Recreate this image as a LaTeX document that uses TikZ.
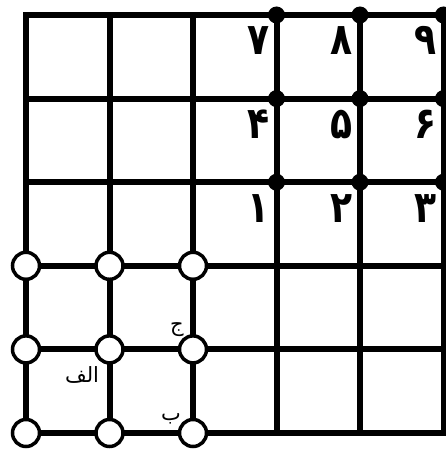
\documentclass[tikz,border=0pt]{standalone}
\usepackage{fontspec}
\TeXXeTstate=1
\newfontfamily\arabicfont[Script=Arabic]{DejaVu Sans}
\newfontfamily\digitfont[Script=Arabic,FakeStretch=0.82]{DejaVu Sans}
\begin{document}
\begin{tikzpicture}[x=1pt,y=-1pt,
  gridline/.style={line width=6pt, line cap=rect},
  hole/.style={circle, draw, fill=white, line width=3.5pt, minimum size=27pt, inner sep=0pt},
  dot/.style={circle, fill=black, minimum size=17pt, inner sep=0pt},
  num/.style={font=\digitfont\bfseries\fontsize{44}{44}\selectfont, anchor=base east, inner sep=0pt},
  lab/.style={font=\arabicfont\fontsize{21}{21}\selectfont, inner sep=0pt}]
\useasboundingbox (0,0) rectangle (445,449);
\foreach \i in {0,...,5}
  \foreach \j in {0,...,5}
    \coordinate (p-\i-\j) at ({26+83.5*\i},{15+83.6*\j});
\foreach \i in {0,...,5}
  \draw[gridline] (p-\i-0) -- (p-\i-5);
\foreach \j in {0,...,5}
  \draw[gridline] (p-0-\j) -- (p-5-\j);
\foreach \i in {0,1,2}
  \foreach \j in {3,4,5}
    \node[hole] (c-\i-\j) at (p-\i-\j) {};
\foreach \i in {3,4,5}
  \foreach \j in {0,1,2}
    \node[dot] (d-\i-\j) at (p-\i-\j) {};
% digits
\node[num] (n7) at ([xshift=-7pt,yshift=-40pt]p-3-0) {۷};
\node[num] (n8) at ([xshift=-7pt,yshift=-40pt]p-4-0) {۸};
\node[num] (n9) at ([xshift=-7pt,yshift=-40pt]p-5-0) {۹};
\node[num] (n4) at ([xshift=-7pt,yshift=-40pt]p-3-1) {۴};
\node[num] (n5) at ([xshift=-7pt,yshift=-40pt]p-4-1) {۵};
\node[num] (n6) at ([xshift=-7pt,yshift=-40pt]p-5-1) {۶};
\node[num] (n1) at ([xshift=-7pt,yshift=-40pt]p-3-2) {۱};
\node[num] (n2) at ([xshift=-7pt,yshift=-40pt]p-4-2) {۲};
\node[num] (n3) at ([xshift=-7pt,yshift=-40pt]p-5-2) {۳};
% letters
\node[lab] (lj) at (177,330) {ج};
\node[lab] (lalef) at (82,375) {\beginR الف\endR};
\node[lab] (lb) at (171,419) {ب};
\end{tikzpicture}
\end{document}
